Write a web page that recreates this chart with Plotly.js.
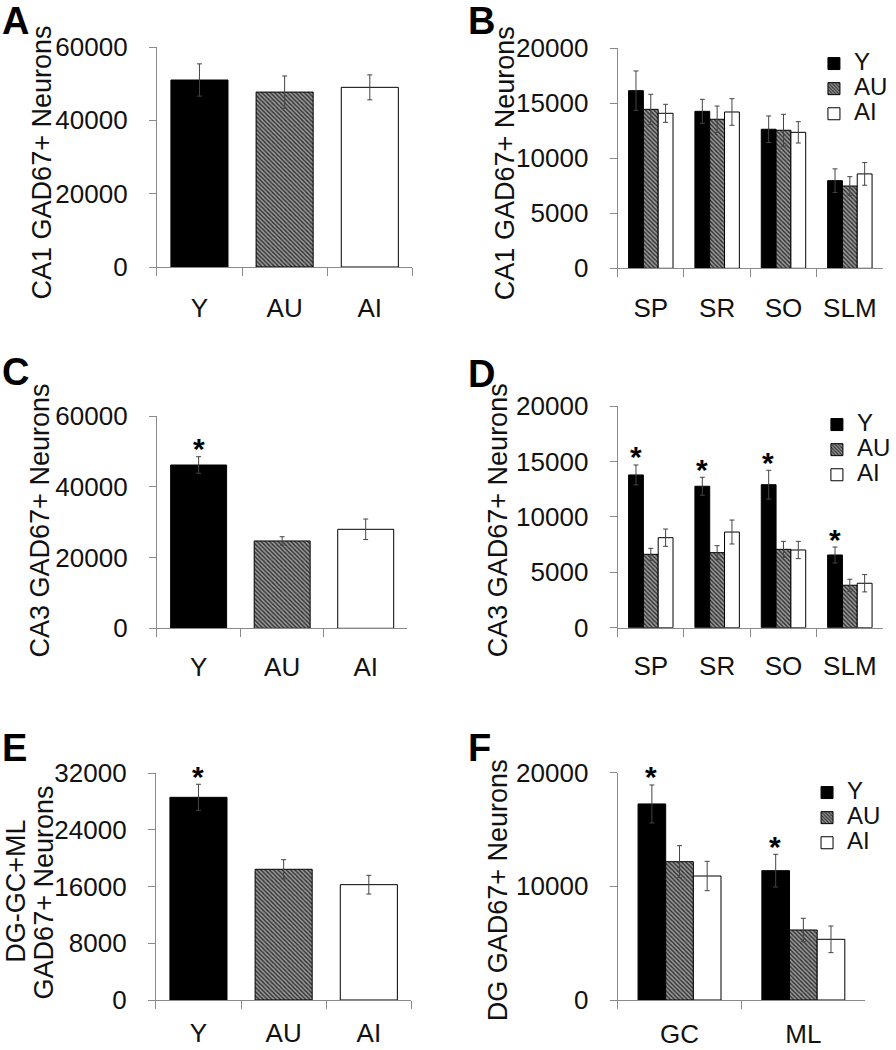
<!DOCTYPE html>
<html><head><meta charset="utf-8">
<script src="https://cdn.plot.ly/plotly-3.0.1.min.js"></script>
<style>html,body{margin:0;padding:0;background:#fff}</style>
</head><body><div id="chart" style="width:896px;height:1050px"></div>
<script>
// ---------- data ----------
const groups = ['Y', 'AU', 'AI'];
const layersCA = ['SP', 'SR', 'SO', 'SLM'];
const layersDG = ['GC', 'ML'];

// A: CA1 totals
const ca1Total = [51000, 47700, 49000];
const ca1TotalErr = [4400, 4400, 3400];
// B: CA1 by layer
const ca1Y = [16150, 14270, 12640, 7970];
const ca1YErr = [1790, 1090, 1210, 1070];
const ca1AU = [14450, 13550, 12550, 7480];
const ca1AUErr = [1370, 1200, 1450, 850];
const ca1AI = [14090, 14210, 12360, 8580];
const ca1AIErr = [820, 1210, 970, 1030];
// C: CA3 totals
const ca3Total = [46150, 24680, 27980];
const ca3TotalErr = [2350, 1200, 2900];
// D: CA3 by layer
const ca3Y = [13780, 12760, 12900, 6560];
const ca3YErr = [900, 810, 1300, 720];
const ca3AU = [6620, 6770, 7070, 3830];
const ca3AUErr = [540, 630, 720, 540];
const ca3AI = [8120, 8630, 7010, 4010];
const ca3AIErr = [780, 1080, 780, 780];
// E: DG totals
const dgTotal = [28610, 18450, 16280];
const dgTotalErr = [1840, 1350, 1320];
// F: DG by layer
const dgY = [17250, 11380];
const dgYErr = [1670, 1440];
const dgAU = [12170, 6160];
const dgAUErr = [1410, 1030];
const dgAI = [10910, 5340];
const dgAIErr = [1290, 1170];

// significance (Y vs aged) markers
const sigC = ['Y'];
const sigD = ['SP', 'SR', 'SO', 'SLM'];
const sigE = ['Y'];
const sigF = ['GC', 'ML'];

// ---------- styles ----------
const FONT = 'Arial, "Liberation Sans", sans-serif';
const W = 896, H = 1050;
const AXC = '#8a8a8a';
const BARGAP = 0.33;
const style = {
  Y:  {color: '#000000', shape: '',   fg: '#000000', bg: '#000000'},
  AU: {color: '#6e6e6e', shape: '\\', fg: '#2e2e2e', bg: '#999999'},
  AI: {color: '#ffffff', shape: '',   fg: '#ffffff', bg: '#ffffff'}
};
const errStyle = {type: 'data', color: '#444', thickness: 1, width: 2.5, visible: true};

function px2x(p) { return p / W; }
function px2y(p) { return 1 - p / H; }

// panel plot-area rectangles in pixels [left, right, top, bottom]
const rect = {
  A: [159, 418, 47, 267],
  B: [626, 895, 48.3, 268.3],
  C: [159, 413, 416, 628.3],
  D: [626, 895, 406, 627.7],
  E: [158, 417, 773.3, 1000],
  F: [626, 877, 772.7, 1000]
};
const idx = {A: '', B: '2', C: '3', D: '4', E: '5', F: '6'};

function markerFor(g) {
  const s = style[g];
  return {
    color: s.color, line: {color: '#000', width: 1},
    pattern: {shape: s.shape, fgcolor: s.fg, bgcolor: s.bg, size: 3, solidity: 0.45}
  };
}
const traces = [];
// single-group panels: one trace per group, sharing one offset slot
function totalTraces(vals, errs, ax) {
  groups.forEach((g, i) => traces.push({
    type: 'bar', x: [g], y: [vals[i]], xaxis: 'x' + ax, yaxis: 'y' + ax,
    offsetgroup: 'tot' + ax, showlegend: false, cliponaxis: false,
    error_y: Object.assign({array: [errs[i]]}, errStyle),
    marker: markerFor(g)
  }));
}
function groupTrace(name, cats, vals, errs, ax, legend) {
  traces.push({
    type: 'bar', name: '<span style="font-size:24px">' + name + '</span>',
    x: cats, y: vals, xaxis: 'x' + ax, yaxis: 'y' + ax, legend: legend,
    cliponaxis: false,
    error_y: Object.assign({array: errs}, errStyle),
    marker: markerFor(name)
  });
}
totalTraces(ca1Total, ca1TotalErr, idx.A);
groupTrace('Y', layersCA, ca1Y, ca1YErr, idx.B, 'legend');
groupTrace('AU', layersCA, ca1AU, ca1AUErr, idx.B, 'legend');
groupTrace('AI', layersCA, ca1AI, ca1AIErr, idx.B, 'legend');
totalTraces(ca3Total, ca3TotalErr, idx.C);
groupTrace('Y', layersCA, ca3Y, ca3YErr, idx.D, 'legend2');
groupTrace('AU', layersCA, ca3AU, ca3AUErr, idx.D, 'legend2');
groupTrace('AI', layersCA, ca3AI, ca3AIErr, idx.D, 'legend2');
totalTraces(dgTotal, dgTotalErr, idx.E);
groupTrace('Y', layersDG, dgY, dgYErr, idx.F, 'legend3');
groupTrace('AU', layersDG, dgAU, dgAUErr, idx.F, 'legend3');
groupTrace('AI', layersDG, dgAI, dgAIErr, idx.F, 'legend3');

const layout = {
  width: W, height: H, margin: {l: 0, r: 0, t: 0, b: 0},
  paper_bgcolor: '#fff', plot_bgcolor: 'rgba(0,0,0,0)',
  font: {family: FONT, size: 26, color: '#111'},
  barmode: 'group', bargap: BARGAP, bargroupgap: 0,
  annotations: []
};

function xAxis(r, n, standoff) {
  return {
    domain: [px2x(r[0]), px2x(r[1])], type: 'category', range: [-0.5, n - 0.5],
    showline: true, linecolor: AXC, linewidth: 1, ticks: 'outside', tickson: 'boundaries',
    ticklen: 8, tickcolor: AXC, tickwidth: 1, showgrid: false, zeroline: false,
    tickfont: {size: 26, color: '#111'}, ticklabelstandoff: standoff, fixedrange: true
  };
}
function yAxis(r, max, dtick) {
  return {
    domain: [px2y(r[3]), px2y(r[2])], range: [0, max], dtick: dtick, tick0: 0,
    tickformat: 'd', showline: true, linecolor: AXC, linewidth: 1, ticks: 'outside',
    ticklen: 7, tickcolor: AXC, tickwidth: 1, showgrid: false, zeroline: false,
    tickfont: {size: 26, color: '#111'}, ticklabelstandoff: 16, fixedrange: true
  };
}
const axes = [
  ['A', 3, 60000, 20000, 18], ['B', 4, 20000, 5000, 16], ['C', 3, 60000, 20000, 15],
  ['D', 4, 20000, 5000, 15], ['E', 3, 32000, 8000, 10], ['F', 2, 20000, 10000, 11]
];
axes.forEach(([p, n, max, dt, so]) => {
  const i = idx[p];
  layout['xaxis' + i] = Object.assign(xAxis(rect[p], n, so), {anchor: 'y' + i});
  layout['yaxis' + i] = Object.assign(yAxis(rect[p], max, dt), {anchor: 'x' + i});
});

// legends
function legendAt(swatchLeft, firstRow) {
  return {
    x: px2x(swatchLeft - 10), xanchor: 'left', y: px2y(firstRow - 15), yanchor: 'top',
    bgcolor: 'rgba(0,0,0,0)', borderwidth: 0, font: {size: 17, family: FONT, color: '#111'},
    itemwidth: 30, traceorder: 'normal', itemclick: false, itemdoubleclick: false
  };
}
layout.legend = legendAt(835, 61);
layout.legend2 = legendAt(838, 422);
layout.legend3 = legendAt(828, 790);

// panel letters
const letters = [['A', 0, 21], ['B', 472, 21], ['C', 0, 372], ['D', 472, 374], ['E', 0, 748], ['F', 472, 748]];
letters.forEach(([t, x, y]) => layout.annotations.push({
  text: '<b>' + t + '</b>', xref: 'paper', yref: 'paper', x: px2x(x), y: px2y(y),
  xanchor: 'left', yanchor: 'middle', showarrow: false, font: {size: 38, family: FONT, color: '#000'}
}));

// axis titles
const ytitles = [
  ['CA1 GAD67+ Neurons', 43, 162], ['CA1 GAD67+ Neurons', 512, 163],
  ['CA3 GAD67+ Neurons', 41, 520], ['CA3 GAD67+ Neurons', 505, 520],
  ['DG-GC+ML', 16, 891], ['GAD67+ Neurons', 45, 892], ['DG GAD67+ Neurons', 505, 890]
];
ytitles.forEach(([t, x, y]) => layout.annotations.push({
  text: t, xref: 'paper', yref: 'paper', x: px2x(x), y: px2y(y), textangle: -90,
  xanchor: 'center', yanchor: 'middle', showarrow: false, align: 'center',
  font: {size: 27, family: FONT, color: '#111'}
}));

// significance asterisks
function star(ax, x, y, xshift) {
  layout.annotations.push({
    text: '<b>*</b>', xref: 'x' + ax, yref: 'y' + ax, x: x, y: y, xshift: xshift, yshift: 8,
    xanchor: 'center', yanchor: 'middle', showarrow: false,
    font: {size: 30, family: FONT, color: '#000'}
  });
}
function barW(p, n) { const r = rect[p]; return (r[1] - r[0]) / n * (1 - BARGAP) / 3; }
sigC.forEach(g => { const i = groups.indexOf(g); star(idx.C, g, ca3Total[i] + ca3TotalErr[i], 0); });
sigE.forEach(g => { const i = groups.indexOf(g); star(idx.E, g, dgTotal[i] + dgTotalErr[i], 0); });
sigD.forEach(c => { const i = layersCA.indexOf(c); star(idx.D, c, ca3Y[i] + ca3YErr[i], -barW('D', 4)); });
sigF.forEach(c => { const i = layersDG.indexOf(c); star(idx.F, c, dgY[i] + dgYErr[i], -barW('F', 2)); });

Plotly.newPlot('chart', traces, layout, {staticPlot: true, displayModeBar: false});
</script></body></html>
